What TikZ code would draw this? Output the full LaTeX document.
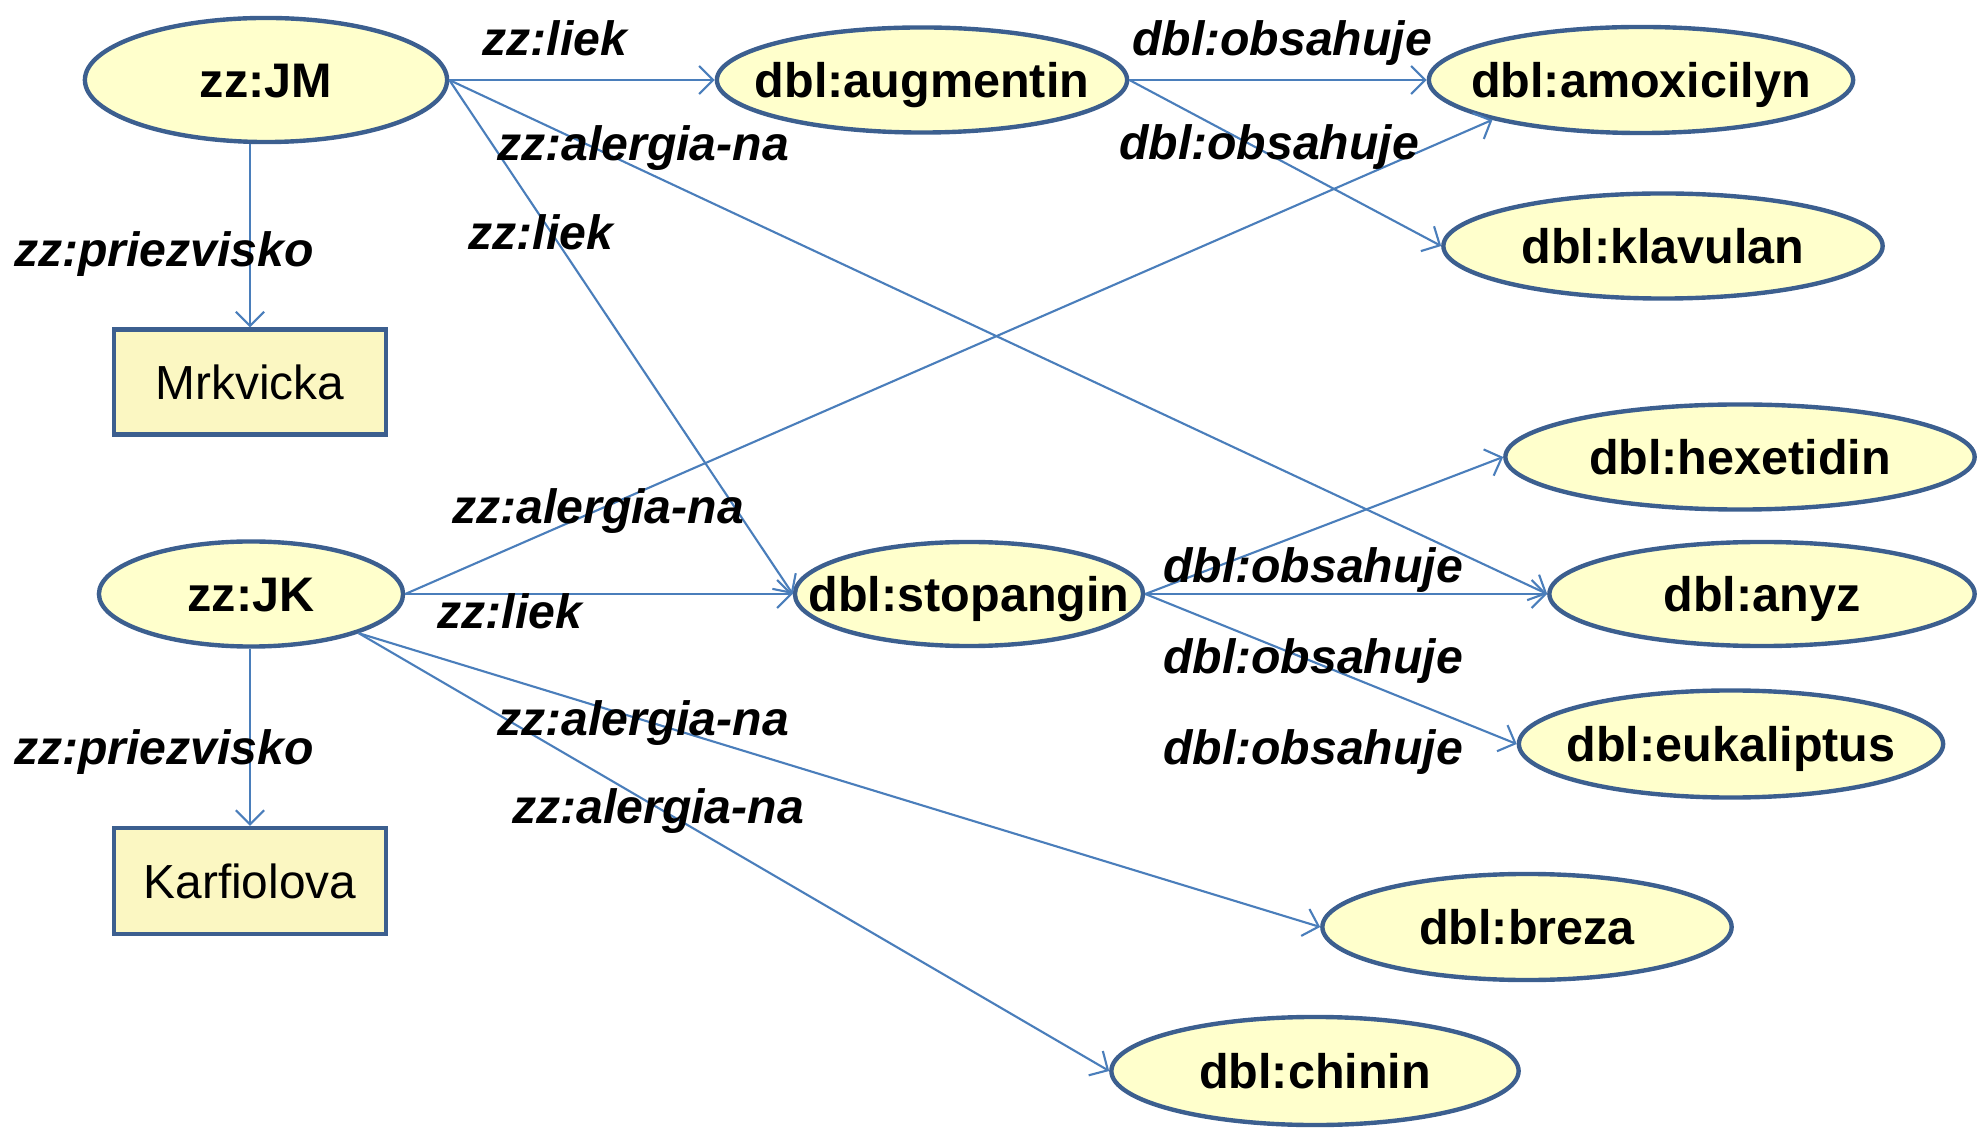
\documentclass[tikz,border=0pt]{standalone}
\usepackage{fontspec}
\setmainfont{Liberation Sans}
\usetikzlibrary{shapes.geometric,arrows.meta}
\definecolor{bord}{HTML}{3C5F8F}
\definecolor{edgec}{HTML}{4A7EBB}
\definecolor{efill}{HTML}{FFFFCC}
\definecolor{rfill}{HTML}{FBF7C2}
\newcommand{\ct}[1]{\makebox[0pt][c]{#1}}
\begin{document}
\begin{tikzpicture}[x=0.01cm,y=-0.01cm,
 ell/.style={ellipse,draw=bord,line width=1.25pt,fill=efill,inner sep=0pt,text height=9.8pt,text depth=0pt,font=\fontsize{13.8}{16}\selectfont\bfseries},
 lit/.style={rectangle,draw=bord,line width=1.25pt,fill=rfill,inner sep=0pt,text height=9.8pt,text depth=0pt,font=\fontsize{13.6}{16}\selectfont},
 lab/.style={font=\fontsize{13.7}{16}\selectfont\bfseries\itshape,inner sep=0pt,text height=9.8pt,text depth=0pt},
 arr/.style={draw=edgec,line width=0.6pt,-{Straight Barb[length=4pt,width=8pt]}}]
\useasboundingbox (0,0) rectangle (1985,1131);
% nodes
\node[ell,minimum width=3.62cm,minimum height=1.24cm] (JM) at (266,80) {\ct{zz:JM}};
\node[lit,minimum width=2.72cm,minimum height=1.05cm] (Mrk) at (250,382) {\ct{Mrkvicka}};
\node[ell,minimum width=4.10cm,minimum height=1.05cm] (aug) at (922,80) {\ct{dbl:augmentin}};
\node[ell,minimum width=4.24cm,minimum height=1.06cm] (amox) at (1641,80) {\ct{dbl:amoxicilyn}};
\node[ell,minimum width=4.39cm,minimum height=1.05cm] (klav) at (1663,246) {\ct{dbl:klavulan}};
\node[ell,minimum width=3.04cm,minimum height=1.05cm] (JK) at (251,594) {\ct{zz:JK}};
\node[lit,minimum width=2.72cm,minimum height=1.06cm] (Karf) at (250,881) {\ct{Karfiolova}};
\node[ell,minimum width=3.48cm,minimum height=1.04cm] (stop) at (969,594) {\ct{dbl:stopangin}};
\node[ell,minimum width=4.69cm,minimum height=1.05cm] (hex) at (1740,457) {\ct{dbl:hexetidin}};
\node[ell,minimum width=4.25cm,minimum height=1.04cm] (anyz) at (1762,594) {\ct{dbl:anyz}};
\node[ell,minimum width=4.24cm,minimum height=1.07cm] (euk) at (1731,744) {\ct{dbl:eukaliptus}};
\node[ell,minimum width=4.09cm,minimum height=1.06cm] (breza) at (1527,927) {\ct{dbl:breza}};
\node[ell,minimum width=4.07cm,minimum height=1.08cm] (chin) at (1315,1071) {\ct{dbl:chinin}};
% edges
\draw[arr] (JM.east) -- (aug.west);
\draw[arr] (JM.east) -- (anyz.west);
\draw[arr] (JM.east) -- (stop.west);
\draw[arr] (JM.south -| Mrk.north) -- (Mrk.north);
\draw[arr] (aug.east) -- (amox.west);
\draw[arr] (aug.east) -- (klav.west);
\draw[arr] (JK.east) -- (amox.195);
\draw[arr] (JK.east) -- (stop.west);
\draw[arr] (JK.south -| Karf.north) -- (Karf.north);
\draw[arr] (JK.-20) -- (breza.west);
\draw[arr] (JK.-20) -- (chin.west);
\draw[arr] (stop.east) -- (hex.west);
\draw[arr] (stop.east) -- (anyz.west);
\draw[arr] (stop.east) -- (euk.west);
% labels
\node[lab] (l1) at (555,38) {zz:liek};
\node[lab] (l2) at (1282,38) {dbl:obsahuje};
\node[lab] (l3) at (1269,142) {dbl:obsahuje};
\node[lab] (l4) at (643,143) {zz:alergia-na};
\node[lab] (l5) at (541,232) {zz:liek};
\node[lab] (l6) at (164,249) {zz:priezvisko};
\node[lab] (l7) at (598,506) {zz:alergia-na};
\node[lab] (l8) at (510,611) {zz:liek};
\node[lab] (l9) at (1313,565) {dbl:obsahuje};
\node[lab] (l10) at (1313,656) {dbl:obsahuje};
\node[lab] (l11) at (1313,747) {dbl:obsahuje};
\node[lab] (l12) at (164,747) {zz:priezvisko};
\node[lab] (l13) at (643,718) {zz:alergia-na};
\node[lab] (l14) at (658,806) {zz:alergia-na};
\end{tikzpicture}
\end{document}
